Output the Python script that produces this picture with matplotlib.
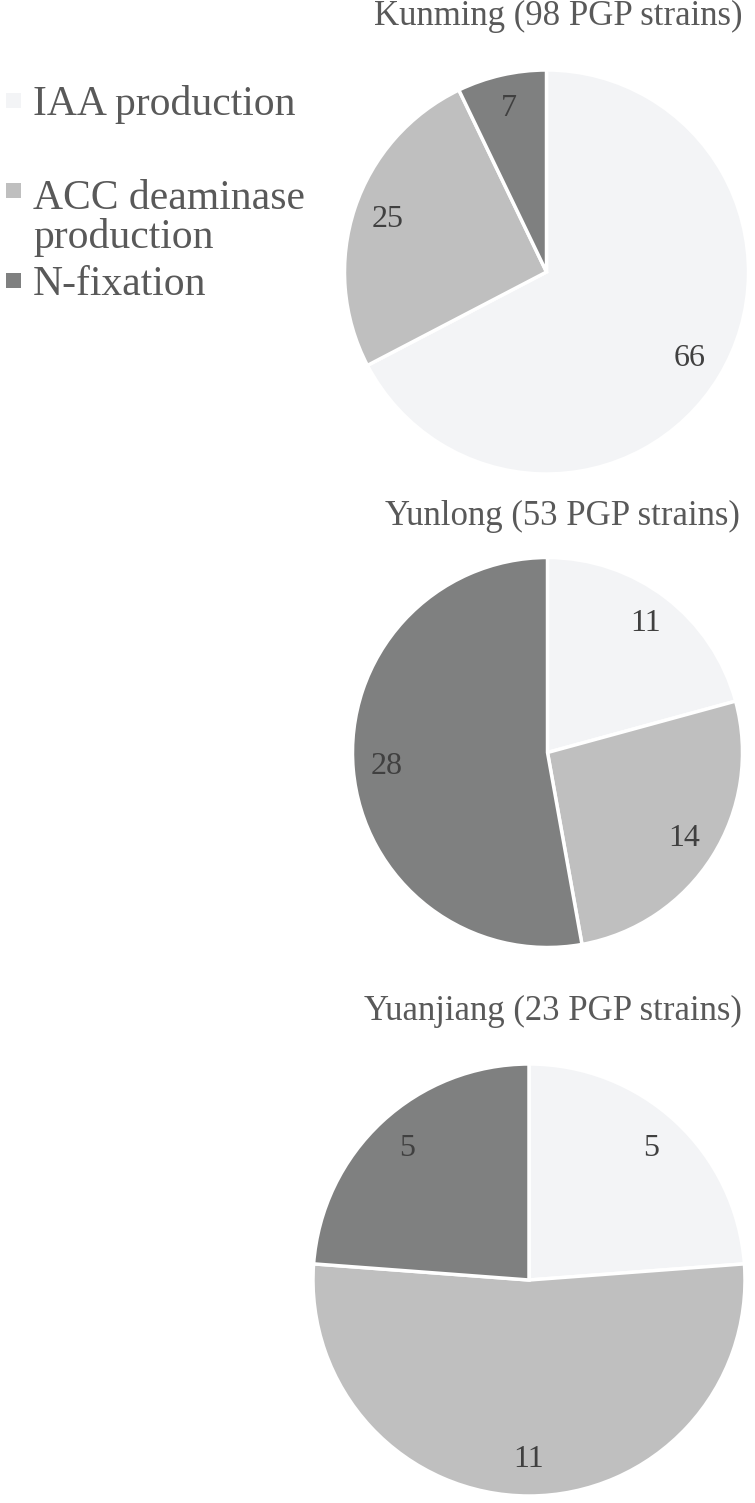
import matplotlib.pyplot as plt
from matplotlib.patches import Rectangle

plt.rcParams['font.family'] = ['Liberation Serif', 'DejaVu Serif']

# data
categories = ['IAA production', 'ACC deaminase\nproduction', 'N-fixation']
colors = ['#F3F4F6', '#BFBFBF', '#7F8080']
sites = ['Kunming (98 PGP strains)', 'Yunlong (53 PGP strains)', 'Yuanjiang (23 PGP strains)']
kunming = [66, 25, 7]
yunlong = [11, 14, 28]
yuanjiang = [5, 11, 5]

W, H = 755, 1503
fig = plt.figure(figsize=(W / 100, H / 100), dpi=100)

# pie placement in pixels: centre x, centre y (from top), radius
layout = [(546.5, 272, 202), (547.5, 752.5, 195), (529, 1280, 216)]
titles_pos = [(558, 25), (562, 525), (553, 1020)]

for vals, title, (cx, cy, r), (tx, ty) in zip([kunming, yunlong, yuanjiang], sites, layout, titles_pos):
    ax = fig.add_axes([(cx - r) / W, (H - cy - r) / H, 2 * r / W, 2 * r / H])
    wedges, texts = ax.pie(vals, colors=colors, startangle=90, counterclock=False,
                           labels=[str(v) for v in vals], labeldistance=0.83,
                           wedgeprops=dict(edgecolor='white', linewidth=2.5))
    for t in texts:
        t.set_ha('center')
        t.set_va('center')
        t.set_fontsize(23)
        t.set_color('#404040')
    ax.set_xlim(-1, 1)
    ax.set_ylim(-1, 1)
    ax.set_aspect('auto')
    fig.text(tx / W, 1 - ty / H, title, ha='center', va='baseline',
             fontsize=25, color='#595959')

# legend (first-line baselines in pixels)
leg_y = [115, 205, 295]
line_gap = 43
for lab, col, by in zip(categories, colors, leg_y):
    fig.patches.append(Rectangle((6 / W, 1 - (by - 7) / H), 15 / W, 15 / H,
                                 transform=fig.transFigure, facecolor=col,
                                 edgecolor='none'))
    last = by + line_gap * lab.count('\n')
    fig.text(33 / W, 1 - last / H, lab, ha='left', va='baseline',
             fontsize=30, color='#595959', linespacing=1.0)

fig.savefig('out.png', dpi=100)
